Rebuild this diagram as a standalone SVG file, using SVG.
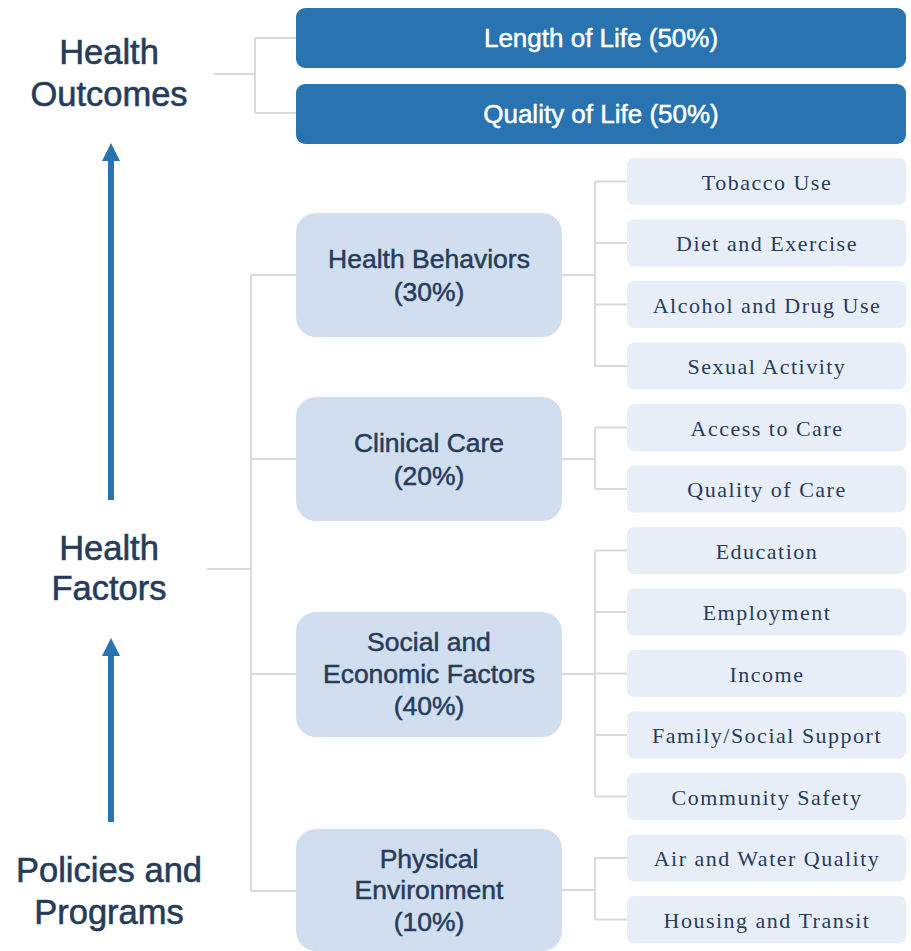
<svg xmlns="http://www.w3.org/2000/svg" width="911" height="951" viewBox="0 0 911 951">
  <style>
    .lvl-label { font-family: "Liberation Sans", Arial, sans-serif; font-size: 34.5px; fill: #263c5a; stroke: #263c5a; stroke-width: 0.6; text-anchor: middle; }
    .outcome rect { fill: #2873b0; }
    .outcome text { font-family: "Liberation Sans", Arial, sans-serif; font-size: 26px; fill: #ffffff; stroke: #ffffff; stroke-width: 0.5; text-anchor: middle; }
    .factor rect { fill: #d0deef; }
    .factor text { font-family: "Liberation Sans", Arial, sans-serif; font-size: 26.5px; fill: #263c5a; stroke: #263c5a; stroke-width: 0.5; text-anchor: middle; }
    .item rect { fill: #e8eef8; }
    .item text { font-family: "Liberation Serif", "Times New Roman", serif; font-size: 22px; letter-spacing: 1.5px; fill: #263c5a; text-anchor: middle; }
    .conn { fill: none; stroke: #d9d9d9; stroke-width: 2; }
    .arrow { stroke: #2873b0; stroke-width: 6; fill: none; }
    .arrowhead { fill: #2873b0; }
  </style>

  <!-- connectors -->
  <g id="connectors" class="conn">
    <!-- outcomes -->
    <path d="M214 74 H255 M255 38 V113 M255 38 H296 M255 113 H296"/>
    <!-- factors -->
    <path d="M207 569 H251 M251 275 V891 M251 275 H296 M251 459 H296 M251 674 H296 M251 891 H296"/>
    <!-- health behaviors -->
    <path d="M562 275 H595 M595 181.5 V366 M595 181.5 H627 M595 243 H627 M595 304.5 H627 M595 366 H627"/>
    <!-- clinical care -->
    <path d="M562 459 H595 M595 427.5 V489 M595 427.5 H627 M595 489 H627"/>
    <!-- social and economic -->
    <path d="M562 674 H595 M595 550.5 V796.5 M595 550.5 H627 M595 612 H627 M595 673.5 H627 M595 735 H627 M595 796.5 H627"/>
    <!-- physical environment -->
    <path d="M562 890 H595 M595 858 V919.5 M595 858 H627 M595 919.5 H627"/>
  </g>

  <!-- vertical arrows -->
  <g id="arrows">
    <line class="arrow" x1="111" y1="500" x2="111" y2="158"/>
    <polygon class="arrowhead" points="111,143 120,161 102,161"/>
    <line class="arrow" x1="111" y1="822" x2="111" y2="653"/>
    <polygon class="arrowhead" points="111,638 120,656 102,656"/>
  </g>

  <!-- level labels -->
  <g id="label-outcomes">
    <text class="lvl-label" x="109" y="64">Health</text>
    <text class="lvl-label" x="109" y="106">Outcomes</text>
  </g>
  <g id="label-factors">
    <text class="lvl-label" x="109" y="560">Health</text>
    <text class="lvl-label" x="109" y="600">Factors</text>
  </g>
  <g id="label-policies">
    <text class="lvl-label" x="109" y="882">Policies and</text>
    <text class="lvl-label" x="109" y="924">Programs</text>
  </g>

  <!-- health outcomes -->
  <g id="length-of-life" class="outcome">
    <rect x="296" y="8" width="610" height="60" rx="9"/>
    <text x="601" y="47">Length of Life (50%)</text>
  </g>
  <g id="quality-of-life" class="outcome">
    <rect x="296" y="84" width="610" height="60" rx="9"/>
    <text x="601" y="123">Quality of Life (50%)</text>
  </g>

  <!-- health factors -->
  <g id="health-behaviors" class="factor">
    <rect x="296" y="213" width="266" height="124" rx="20"/>
    <text x="429" y="268">Health Behaviors</text>
    <text x="429" y="301">(30%)</text>
  </g>
  <g id="clinical-care" class="factor">
    <rect x="296" y="397" width="266" height="124" rx="20"/>
    <text x="429" y="452">Clinical Care</text>
    <text x="429" y="485">(20%)</text>
  </g>
  <g id="social-economic" class="factor">
    <rect x="296" y="612" width="266" height="125" rx="20"/>
    <text x="429" y="651">Social and</text>
    <text x="429" y="683">Economic Factors</text>
    <text x="429" y="715">(40%)</text>
  </g>
  <g id="physical-environment" class="factor">
    <rect x="296" y="829" width="266" height="122" rx="20"/>
    <text x="429" y="868">Physical</text>
    <text x="429" y="899">Environment</text>
    <text x="429" y="931">(10%)</text>
  </g>

  <!-- contributing items -->
  <g id="tobacco-use" class="item">
    <rect x="627" y="158" width="279" height="47" rx="7"/>
    <text x="767" y="189.5">Tobacco Use</text>
  </g>
  <g id="diet-exercise" class="item">
    <rect x="627" y="219.5" width="279" height="47" rx="7"/>
    <text x="767" y="251">Diet and Exercise</text>
  </g>
  <g id="alcohol-drug-use" class="item">
    <rect x="627" y="281" width="279" height="47" rx="7"/>
    <text x="767" y="312.5">Alcohol and Drug Use</text>
  </g>
  <g id="sexual-activity" class="item">
    <rect x="627" y="342.5" width="279" height="47" rx="7"/>
    <text x="767" y="374">Sexual Activity</text>
  </g>
  <g id="access-to-care" class="item">
    <rect x="627" y="404" width="279" height="47" rx="7"/>
    <text x="767" y="435.5">Access to Care</text>
  </g>
  <g id="quality-of-care" class="item">
    <rect x="627" y="465.5" width="279" height="47" rx="7"/>
    <text x="767" y="497">Quality of Care</text>
  </g>
  <g id="education" class="item">
    <rect x="627" y="527" width="279" height="47" rx="7"/>
    <text x="767" y="558.5">Education</text>
  </g>
  <g id="employment" class="item">
    <rect x="627" y="588.5" width="279" height="47" rx="7"/>
    <text x="767" y="620">Employment</text>
  </g>
  <g id="income" class="item">
    <rect x="627" y="650" width="279" height="47" rx="7"/>
    <text x="767" y="681.5">Income</text>
  </g>
  <g id="family-social-support" class="item">
    <rect x="627" y="711.5" width="279" height="47" rx="7"/>
    <text x="767" y="743">Family/Social Support</text>
  </g>
  <g id="community-safety" class="item">
    <rect x="627" y="773" width="279" height="47" rx="7"/>
    <text x="767" y="804.5">Community Safety</text>
  </g>
  <g id="air-water-quality" class="item">
    <rect x="627" y="834.5" width="279" height="47" rx="7"/>
    <text x="767" y="866">Air and Water Quality</text>
  </g>
  <g id="housing-transit" class="item">
    <rect x="627" y="896" width="279" height="47" rx="7"/>
    <text x="767" y="927.5">Housing and Transit</text>
  </g>
</svg>
